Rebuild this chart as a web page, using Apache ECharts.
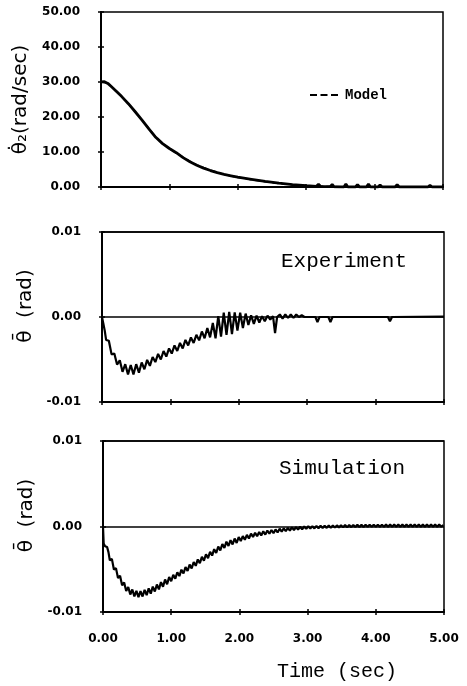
<!DOCTYPE html>
<html><head><meta charset="utf-8">
<script src="https://cdn.jsdelivr.net/npm/echarts@6/dist/echarts.min.js"></script>
<style>html,body{margin:0;padding:0;background:#fff}#c{width:467px;height:686px}</style>
</head><body><div id="c"></div>
<script>
// ---- data (time in sec) ----
const velExperiment = [[0,30],[0.05,30.1],[0.1,29.6],[0.15,28.7],[0.2,27.8],[0.3,25.9],[0.4,23.8],[0.5,21.5],[0.6,19.1],[0.7,16.6],[0.8,14.2],[0.9,12.4],[1,11],[1.1,9.8],[1.2,8.4],[1.3,7.2],[1.4,6.2],[1.5,5.4],[1.6,4.7],[1.7,4.1],[1.8,3.6],[1.9,3.2],[2,2.8],[2.2,2.2],[2.4,1.6],[2.6,1.1],[2.8,0.7],[3,0.4],[3.15,0.2],[3.18,0.8],[3.21,0.15],[3.35,0.1],[3.38,0.7],[3.41,0.05],[3.55,0],[3.58,0.8],[3.61,0],[3.72,0],[3.75,0.7],[3.78,0],[3.88,0],[3.91,0.8],[3.94,0],[4.05,0],[4.08,0.6],[4.11,0],[4.3,0],[4.33,0.7],[4.36,0],[4.78,0],[4.81,0.5],[4.84,0],[5,0]];
const velModel = [[0,30],[0.1,29.7],[0.2,27.9],[0.3,25.9],[0.4,23.8],[0.5,21.5],[0.6,19.1],[0.7,16.7],[0.8,14.4],[0.9,12.5],[1,11],[1.2,8.5],[1.4,6.3],[1.6,4.8],[1.8,3.6],[2,2.7],[2.2,2.1],[2.4,1.5],[2.6,1.0],[2.8,0.6],[3,0.35],[3.3,0.15],[3.6,0.05],[4,0.01],[5,0]];
const thetaExperiment = [[0,0],[0.02,-0.0008],[0.04,-0.0016],[0.06,-0.0027],[0.10,-0.0028],[0.14,-0.0044],[0.18,-0.0043],[0.22,-0.0056],[0.26,-0.0051],[0.30,-0.00645],[0.34,-0.00555],[0.38,-0.00675],[0.42,-0.00565],[0.46,-0.00675],[0.50,-0.00555],[0.54,-0.00655],[0.58,-0.00535],[0.62,-0.00615],[0.66,-0.00505],[0.70,-0.00575],[0.74,-0.0047],[0.78,-0.0053],[0.82,-0.00435],[0.86,-0.005],[0.90,-0.004],[0.94,-0.00465],[0.98,-0.0037],[1.02,-0.0043],[1.06,-0.00335],[1.10,-0.004],[1.14,-0.00305],[1.18,-0.0037],[1.22,-0.0027],[1.26,-0.00335],[1.30,-0.0024],[1.34,-0.00305],[1.38,-0.0021],[1.42,-0.00275],[1.46,-0.0017],[1.50,-0.0025],[1.54,-0.0013],[1.58,-0.0024],[1.62,-0.0007],[1.66,-0.0025],[1.70,0.0001],[1.74,-0.0023],[1.78,0.0005],[1.82,-0.0021],[1.86,0.0006],[1.90,-0.002],[1.94,0.00055],[1.98,-0.0016],[2.02,0.0005],[2.06,-0.0013],[2.10,0.0004],[2.14,-0.00095],[2.18,0.0002],[2.22,-0.0008],[2.26,0.00015],[2.30,-0.00065],[2.34,0.0001],[2.38,-0.0005],[2.42,0.00015],[2.46,-0.0003],[2.50,0.0001],[2.53,-0.0019],[2.56,0],[2.60,0.0003],[2.64,-0.0002],[2.68,0.0003],[2.72,-0.0001],[2.76,0.0003],[2.80,-0.0001],[2.84,0.0003],[2.88,0],[2.92,0.0002],[2.96,0],[3.12,0],[3.15,-0.0006],[3.18,0],[3.31,0],[3.34,-0.0006],[3.37,0],[3.68,0],[3.70,0.0001],[3.72,0],[4.18,0],[4.21,-0.0005],[4.24,0],[5,0.00005]];
const thetaSimulation = [[0,0],[0.01,-0.002],[0.03,-0.0023],[0.06,-0.0024],[0.08,-0.003],[0.10,-0.00395],[0.13,-0.00379],[0.16,-0.00503],[0.19,-0.00487],[0.22,-0.00603],[0.25,-0.00575],[0.28,-0.00687],[0.31,-0.00655],[0.34,-0.00755],[0.37,-0.00707],[0.40,-0.00795],[0.43,-0.00737],[0.46,-0.00817],[0.49,-0.00753],[0.52,-0.00825],[0.55,-0.00755],[0.58,-0.00819],[0.61,-0.00742],[0.64,-0.00803],[0.67,-0.00724],[0.70,-0.00785],[0.73,-0.00703],[0.76,-0.00761],[0.79,-0.00679],[0.82,-0.00735],[0.85,-0.0065],[0.88,-0.00705],[0.91,-0.0062],[0.94,-0.00675],[0.97,-0.0059],[1.00,-0.0064],[1.03,-0.00565],[1.06,-0.0061],[1.09,-0.00535],[1.12,-0.0058],[1.15,-0.00505],[1.18,-0.0055],[1.21,-0.00475],[1.24,-0.0052],[1.27,-0.00445],[1.30,-0.0049],[1.33,-0.00415],[1.36,-0.0046],[1.39,-0.00385],[1.42,-0.0043],[1.45,-0.00355],[1.48,-0.004],[1.51,-0.00325],[1.54,-0.0037],[1.57,-0.00295],[1.60,-0.0034],[1.63,-0.00265],[1.66,-0.0031],[1.69,-0.00235],[1.72,-0.0028],[1.75,-0.00205],[1.78,-0.0025],[1.81,-0.00177],[1.84,-0.00228],[1.87,-0.00159],[1.90,-0.0021],[1.93,-0.00141],[1.96,-0.00192],[1.99,-0.00123],[2.02,-0.0017],[2.05,-0.00113],[2.08,-0.00155],[2.11,-0.00098],[2.14,-0.0014],[2.17,-0.00083],[2.20,-0.00122],[2.23,-0.00074],[2.26,-0.00113],[2.29,-0.00065],[2.32,-0.00104],[2.35,-0.00056],[2.38,-0.00095],[2.41,-0.00047],[2.44,-0.00085],[2.47,-0.00041],[2.50,-0.00078],[2.53,-0.00034],[2.56,-0.0007],[2.59,-0.00026],[2.62,-0.00061],[2.65,-0.00022],[2.68,-0.00055],[2.71,-0.00016],[2.74,-0.00049],[2.77,-0.0001],[2.80,-0.00041],[2.83,-0.00007],[2.86,-0.00037],[2.89,-0.00003],[2.92,-0.00033],[2.95,0],[2.98,-0.00028],[3.01,0.00003],[3.04,-0.00025],[3.07,0.00004],[3.10,-0.00022],[3.13,0.00006],[3.16,-0.0002],[3.19,0.00008],[3.22,-0.00017],[3.25,0.00009],[3.28,-0.00016],[3.31,0.00011],[3.34,-0.00014],[3.37,0.00011],[3.40,-0.00012],[3.43,0.00013],[3.46,-0.0001],[3.49,0.00014],[3.52,-0.00009],[3.55,0.00016],[3.58,-0.00008],[3.61,0.00017],[3.64,-0.00007],[3.67,0.00018],[3.70,-0.00006],[3.73,0.00019],[3.76,-0.00005],[3.79,0.00019],[3.82,-0.00005],[3.85,0.0002],[3.88,-0.00004],[3.91,0.0002],[3.94,-0.00004],[3.97,0.00021],[4.00,-0.00003],[4.03,0.00021],[4.06,-0.00002],[4.09,0.00021],[4.12,-0.00002],[4.15,0.00022],[4.18,-0.00002],[4.21,0.00022],[4.24,-0.00002],[4.27,0.00022],[4.30,-0.00002],[4.33,0.00022],[4.36,-0.00002],[4.39,0.00022],[4.42,-0.00002],[4.45,0.00022],[4.48,-0.00002],[4.51,0.00022],[4.54,-0.00002],[4.57,0.00022],[4.60,-0.00002],[4.63,0.00022],[4.66,-0.00002],[4.69,0.00022],[4.72,-0.00002],[4.75,0.00022],[4.78,-0.00002],[4.81,0.00022],[4.84,-0.00002],[4.87,0.00022],[4.90,-0.00002],[4.93,0.00022],[4.96,-0.00002],[4.99,0.00015]];
const timeRange = [0, 5];
const velRange = [0, 50];
const thetaRange = [-0.01, 0.01];
const panelLabels = ['Experiment', 'Simulation'];
const axisNames = ['\u03B8\u0307\u2082(rad/sec)', '\u03B8\u0304  (rad)', '\u03B8\u0304  (rad)', 'Time (sec)'];

// ---- styling helpers ----
const tickFont = {color:'#000', fontFamily:'DejaVu Sans', fontWeight:'bold', fontSize:12};
function mainX(g, labels, name) {
  return {type:'value', gridIndex:g, min:timeRange[0], max:timeRange[1], interval:1, position:'bottom',
    name: name || '', nameLocation:'middle', nameGap:50,
    nameTextStyle:{fontFamily:'Liberation Mono', fontSize:20, color:'#000', padding:[0,0,0,127]},
    axisLine:{onZero:false, lineStyle:{color:'#000', width:2}},
    axisTick:{show:true, inside:false, length:3, lineStyle:{color:'#000', width:1.5}},
    axisLabel:Object.assign({show:labels, margin:21, formatter:v=>v.toFixed(2)}, tickFont),
    splitLine:{show:false}};
}
function innerX(g) {
  return {type:'value', gridIndex:g, min:timeRange[0], max:timeRange[1], interval:1, position:'bottom',
    axisLine:{show:false, onZero:false}, axisTick:{show:true, inside:true, length:3, lineStyle:{color:'#000', width:1.5}},
    axisLabel:{show:false}, splitLine:{show:false}};
}
function mainY(g, range, interval, name, split, pad) {
  return {type:'value', gridIndex:g, min:range[0], max:range[1], interval:interval, position:'left',
    name:name, nameLocation:'middle', nameGap:64,
    nameTextStyle:{fontFamily:'DejaVu Sans', fontSize:20, color:'#000', padding:[0,0,0,pad]},
    axisLine:{onZero:false, lineStyle:{color:'#000', width:2}},
    axisTick:{show:true, inside:false, length:3, lineStyle:{color:'#000', width:1.5}},
    axisLabel:Object.assign({margin:21, formatter:v=>v.toFixed(2)}, tickFont),
    splitLine:{show:split, lineStyle:{color:'#000', width:1.5}}};
}
function innerY(g, range, interval) {
  return {type:'value', gridIndex:g, min:range[0], max:range[1], interval:interval, position:'left',
    axisLine:{show:false, onZero:false}, axisTick:{show:true, inside:true, length:3, lineStyle:{color:'#000', width:1.5}},
    axisLabel:{show:false}, splitLine:{show:false}};
}
const gridStyle = {show:true, borderColor:'#000', borderWidth:1.5, backgroundColor:'transparent'};

const chart = echarts.init(document.getElementById('c'), null, {renderer:'canvas'});
chart.setOption({
  animation:false,
  backgroundColor:'#fff',
  grid:[
    Object.assign({left:101, right:24, top:12, height:175}, gridStyle),
    Object.assign({left:102, right:23, top:232, height:170}, gridStyle),
    Object.assign({left:103, right:23, top:441, height:171}, gridStyle)
  ],
  xAxis:[mainX(0,false), mainX(1,false), mainX(2,true,axisNames[3]), innerX(0), innerX(1), innerX(2)],
  yAxis:[mainY(0, velRange, 10, axisNames[0], false, 0), mainY(1, thetaRange, 0.01, axisNames[1], true, 22), mainY(2, thetaRange, 0.01, axisNames[2], true, 22),
         innerY(0, velRange, 10), innerY(1, thetaRange, 0.01), innerY(2, thetaRange, 0.01)],
  legend:{data:[{name:'Model', icon:'path://M0,0h7v2h-7zM10.5,0h7v2h-7zM21,0h7v2h-7z'}], left:305, top:83, itemWidth:28, itemHeight:2, itemGap:5,
    itemStyle:{color:'#000', borderWidth:0}, lineStyle:{width:0},
    textStyle:{fontFamily:'Liberation Mono', fontWeight:'bold', fontSize:14, color:'#000', padding:[0,0,0,2]}},
  graphic:[
    {type:'text', left:281, top:251, style:{text:panelLabels[0], font:'21px "Liberation Mono"', fill:'#000'}},
    {type:'text', left:279, top:458, style:{text:panelLabels[1], font:'21px "Liberation Mono"', fill:'#000'}}
  ],
  series:[
    {name:'Experiment', type:'line', xAxisIndex:0, yAxisIndex:0, data:velExperiment, symbol:'none', lineStyle:{color:'#000', width:2.8}, itemStyle:{color:'#000'}},
    {name:'Model', type:'line', xAxisIndex:0, yAxisIndex:0, data:velModel, symbol:'none', lineStyle:{color:'#000', width:1.5, type:'dashed'}, itemStyle:{color:'#000'}},
    {name:'Experiment θ', type:'line', xAxisIndex:1, yAxisIndex:1, data:thetaExperiment, symbol:'none', lineStyle:{color:'#000', width:2.2}, itemStyle:{color:'#000'}},
    {name:'Simulation θ', type:'line', xAxisIndex:2, yAxisIndex:2, data:thetaSimulation, symbol:'none', lineStyle:{color:'#000', width:2.2}, itemStyle:{color:'#000'}}
  ]
});
</script></body></html>
